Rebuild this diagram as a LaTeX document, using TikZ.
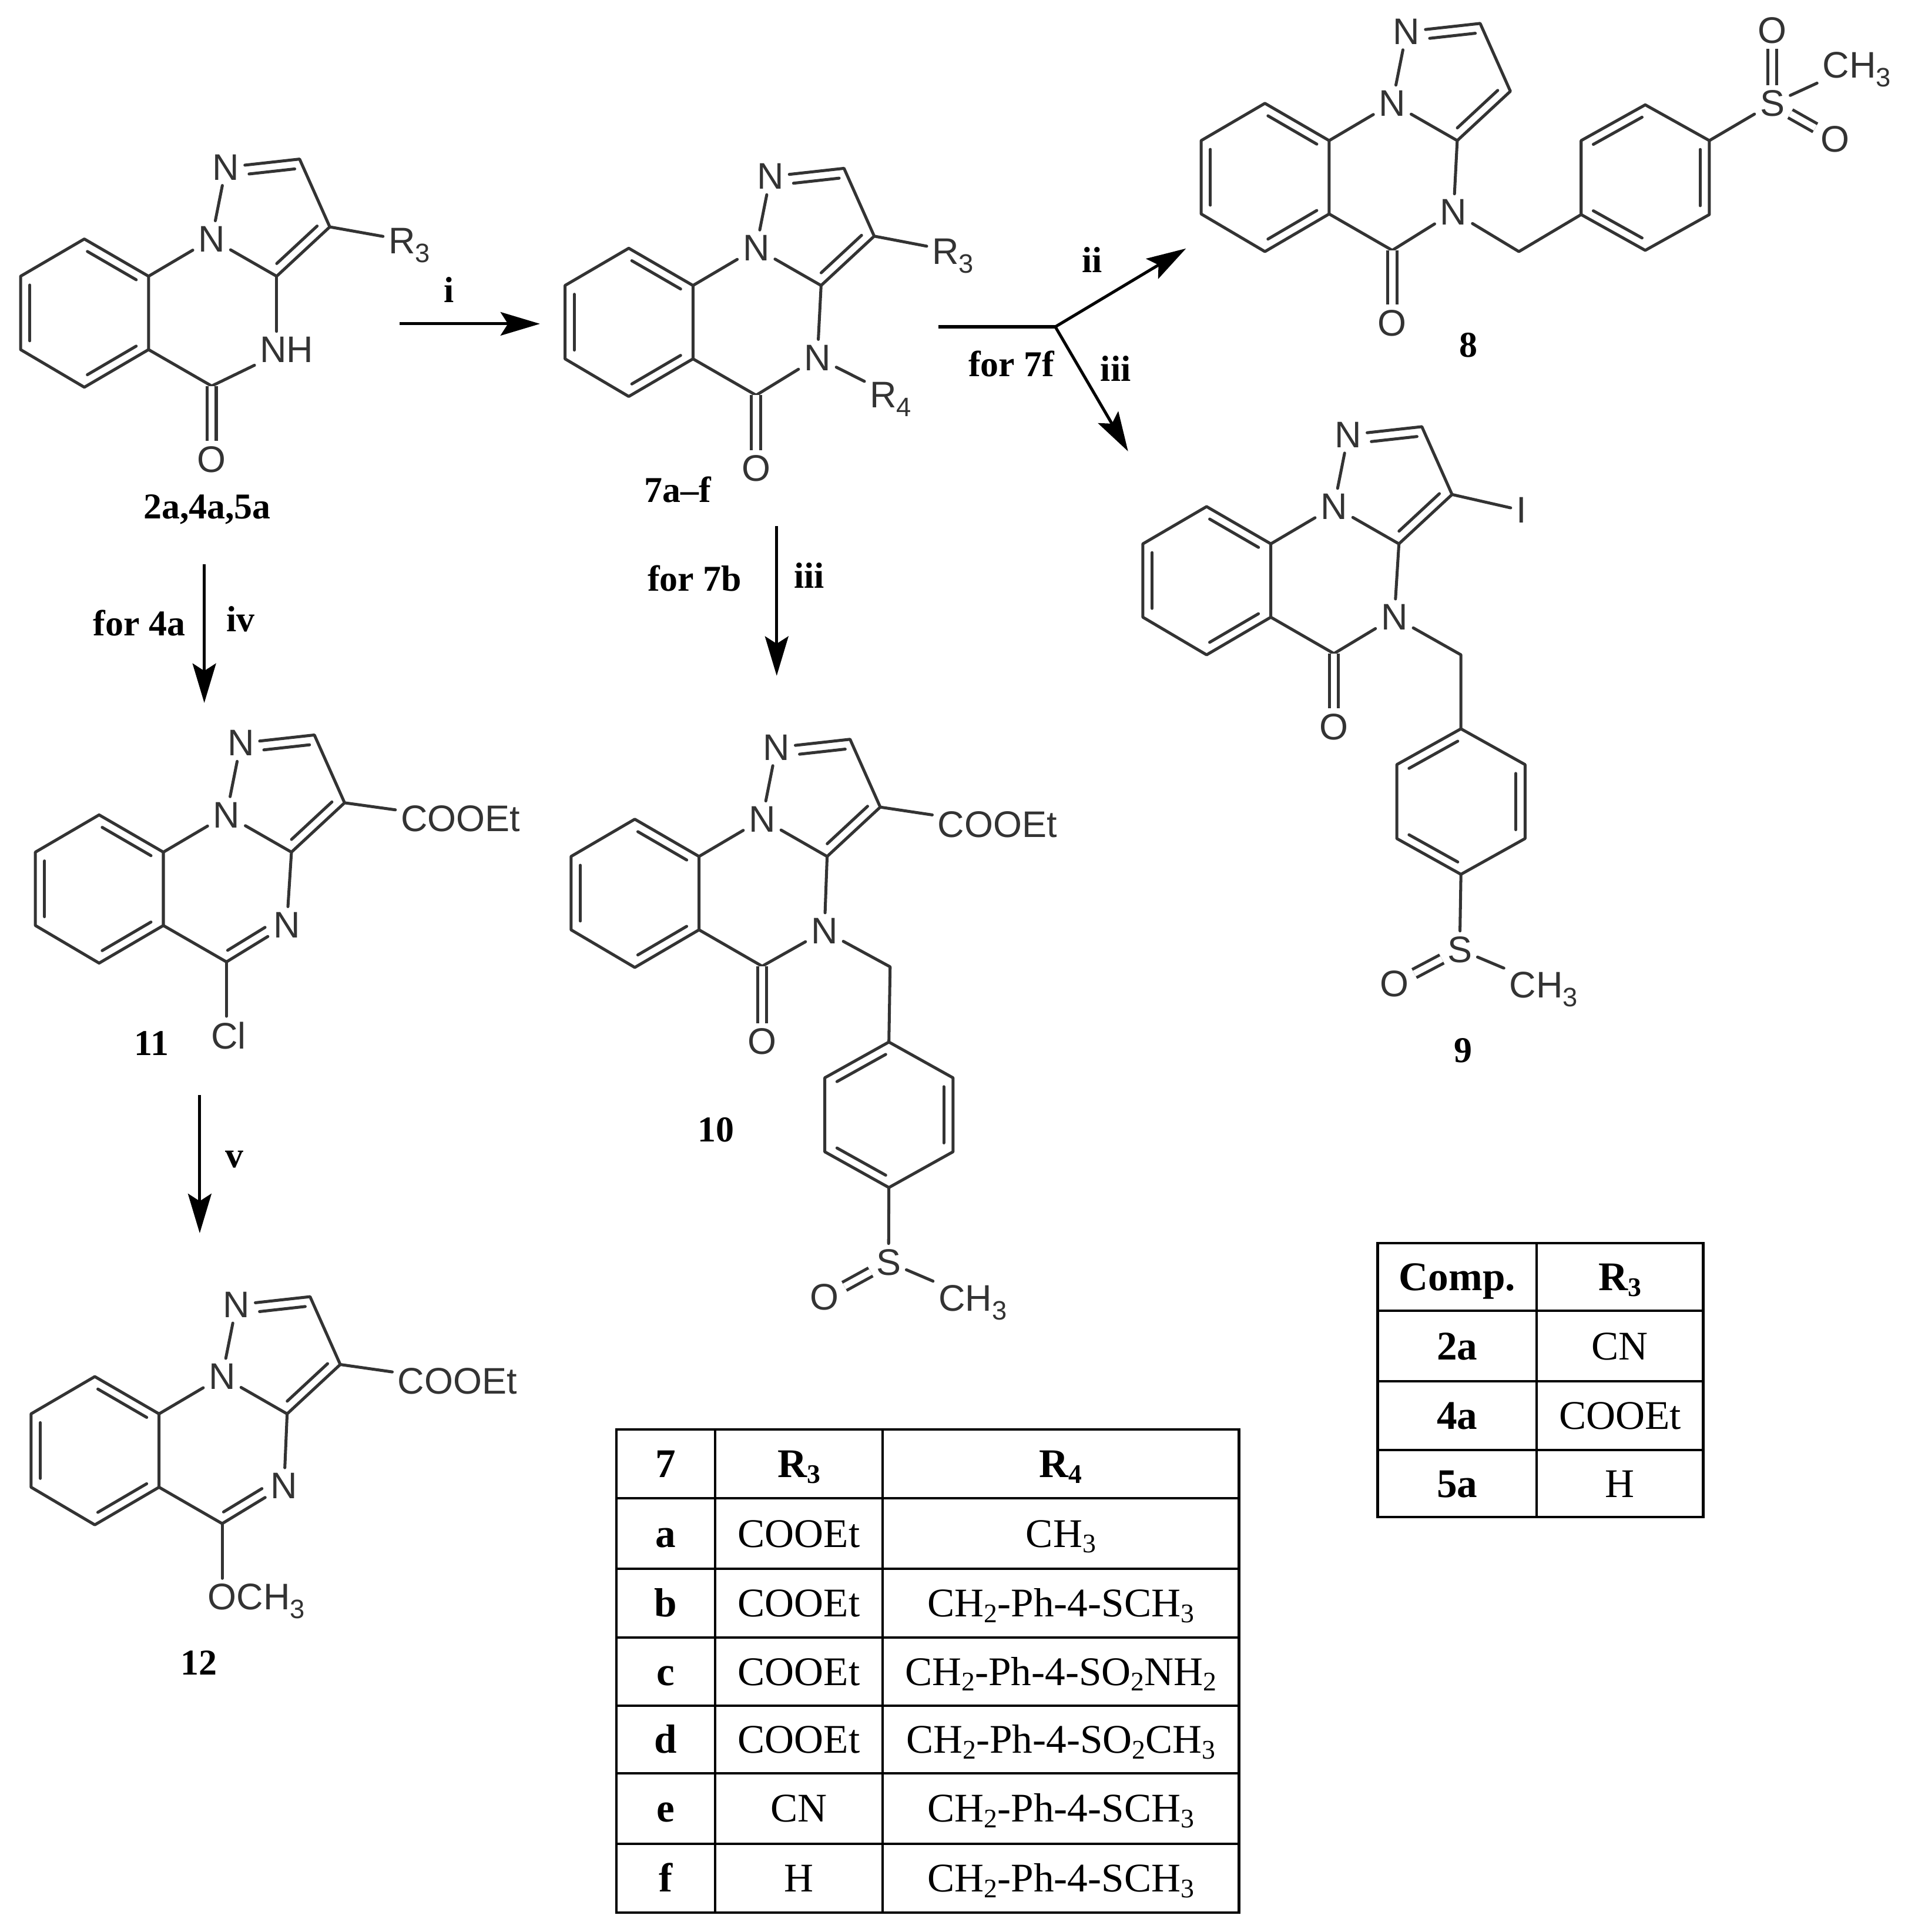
\documentclass[tikz,border=0pt]{standalone}
\usepackage{graphicx}
\usepackage{fontspec}
\setmainfont{Liberation Serif}
\newfontfamily\atomfont{Liberation Sans}
\usetikzlibrary{calc,arrows.meta}
\definecolor{bondColor}{gray}{0.2}
\tikzset{
  bond/.style={draw=bondColor,line width=2.4pt,line join=round,line cap=round},
  dbond/.style={bond,line cap=butt,double=white,double distance=5pt},
  atom/.style={text=bondColor,font=\atomfont\fontsize{30}{36}\selectfont,inner sep=4.5pt,outer sep=0pt},
  lbl/.style={text=black,font=\bfseries\fontsize{29.5}{34}\selectfont,inner sep=0pt,outer sep=0pt},
  rxn/.style={draw=black,line width=2.4pt,-{Stealth[length=32pt,width=19pt,inset=6pt]}},
  rule/.style={draw=black,line width=2pt,line cap=rect},
  cell/.style={text=black,anchor=base,font=\fontsize{33}{38}\selectfont,inner sep=0pt,outer sep=0pt},
  hcell/.style={cell,font=\bfseries\fontsize{33}{38}\selectfont},
}
\newcommand{\lowtxt}[1]{\raisebox{-.24em}[0pt][0pt]{\scalebox{.72}{#1}}}
\newcommand{\lowcell}[1]{\raisebox{-.14em}[0pt][0pt]{\scalebox{.66}{#1}}}
\newcommand{\innerline}[5]{\draw[bond] ($(#1)!#4!(#2)!#3!90:(#2)$) -- ($(#2)!#5!(#1)!#3!-90:(#1)$);}
% tricyclic core: name prefix, x shift, y shift
\newcommand{\ringcore}[3]{%
\begin{scope}[shift={(#2,#3)}]
\coordinate (#1a) at (68.4,193.8);
\coordinate (#1b) at (120.5,224);
\coordinate (#1c) at (120.5,283.5);
\coordinate (#1d) at (68.4,314);
\coordinate (#1e) at (16.7,283.5);
\coordinate (#1f) at (16.7,224);
\node[atom] (#1n1) at (171.7,193.8) {N};
\node[atom] (#1n2) at (183.3,135.6) {N};
\coordinate (#1c3) at (243,129);
\coordinate (#1c3a) at (267.5,184);
\coordinate (#1c9a) at (224.4,224);
\coordinate (#1c5) at (171.7,313);
\draw[bond] (#1a) -- (#1b) -- (#1c) -- (#1d) -- (#1e) -- (#1f) -- cycle;
\draw[bond] (#1b) -- (#1n1) -- (#1n2);
\draw[bond] (#1n2) -- (#1c3) -- (#1c3a) -- (#1c9a) -- (#1n1);
\draw[bond] (#1c) -- (#1c5);
\innerline{#1a}{#1b}{-7.5pt}{.12}{.12}
\innerline{#1c}{#1d}{-7.5pt}{.12}{.12}
\innerline{#1e}{#1f}{-7.5pt}{.12}{.12}
\innerline{#1c9a}{#1c3a}{7.5pt}{.12}{.12}
\innerline{#1n2}{#1c3}{-7.5pt}{.3}{.08}
\end{scope}}
% para-substituted phenyl: name prefix, centre x, centre y
\newcommand{\phenring}[3]{%
\begin{scope}[shift={(#2,#3)}]
\coordinate (#1t) at (0,-59);
\coordinate (#1r) at (52,-30);
\coordinate (#1s) at (52,30);
\coordinate (#1u) at (0,59);
\coordinate (#1m) at (-52,30);
\coordinate (#1l) at (-52,-30);
\draw[bond] (#1t) -- (#1r) -- (#1s) -- (#1u) -- (#1m) -- (#1l) -- cycle;
\innerline{#1l}{#1t}{-7.5pt}{.12}{.12}
\innerline{#1r}{#1s}{-7.5pt}{.12}{.12}
\innerline{#1u}{#1m}{-7.5pt}{.12}{.12}
\end{scope}}
\begin{document}
\begin{tikzpicture}[x=1pt,y=-1pt]
\path[use as bounding box,fill=white] (0,0) rectangle (1547.2,1566.7);

% compounds 2a,4a,5a
\ringcore{p}{0}{0}
\node[atom] (pR) at (332,195.5) {R\lowtxt{3}};
\node[atom] (pNH) at (232.6,283.5) {NH};
\node[atom] (pO) at (171.7,372.6) {O};
\draw[bond] (pc3a) -- (pR);
\draw[bond] (pc9a) -- (pNH.north -| pc9a);
\draw[bond] (pc5) -- (pNH);
\draw[dbond] (pc5) -- (pO);
\node[lbl] (pname) at (168,413) {2a,4a,5a};

% compounds 7a-f
\ringcore{q}{441.6}{7.5}
\node[atom] (qR) at (773,203.7) {R\lowtxt{3}};
\node[atom] (qN) at (663,290) {N};
\node[atom] (qRf) at (722.5,320) {R\lowtxt{4}};
\node[atom] (qO) at (613.3,380) {O};
\draw[bond] (qc3a) -- (qR);
\draw[bond] (qc9a) -- (qN) -- (qc5);
\draw[bond] (qN) -- (qRf);
\draw[dbond] (qc5) -- (qO);
\node[lbl] (qname) at (549.6,396.8) {7a--f};

% compound 8
\ringcore{r}{957.6}{-110}
\node[atom] (rN) at (1179,172) {N};
\node[atom] (rO) at (1129.3,262) {O};
\coordinate (rch) at (1232,204);
\phenring{rp}{1334.5}{144}
\node[atom] (rS) at (1437.6,84) {S};
\node[atom] (rOa) at (1437.6,24.5) {O};
\node[atom] (rOb) at (1488.6,112.8) {O};
\node[atom] (rMe) at (1506,52.7) {CH\lowtxt{3}};
\draw[bond] (rc9a) -- (rN) -- (rc5);
\draw[bond] (rN) -- (rch) -- (rpm);
\draw[dbond] (rc5) -- (rO);
\draw[bond] (rpr) -- (rS) -- (rMe);
\draw[dbond] (rS) -- (rOa);
\draw[dbond] (rS) -- (rOb);
\node[lbl] (rname) at (1191,280) {8};

% compound 9
\ringcore{s}{910.3}{217}
\node[atom] (sI) at (1234,413.8) {I};
\node[atom] (sN) at (1131,500.5) {N};
\node[atom] (sO) at (1082,589.6) {O};
\coordinate (sch) at (1185,531);
\phenring{sp}{1185}{650}
\node[atom] (sS) at (1184,770) {S};
\node[atom] (sOa) at (1131,798) {O};
\node[atom] (sMe) at (1252,798.6) {CH\lowtxt{3}};
\draw[bond] (sc3a) -- (sI);
\draw[bond] (sc9a) -- (sN) -- (sc5);
\draw[bond] (sN) -- (sch) -- (spt);
\draw[dbond] (sc5) -- (sO);
\draw[bond] (spu) -- (sS) -- (sMe);
\draw[dbond] (sS) -- (sOa);
\node[lbl] (sname) at (1187,852) {9};

% compound 10
\ringcore{t}{446.5}{470.5}
\node[atom] (tE) at (809,668.7) {COOEt};
\node[atom] (tN) at (668.7,755) {N};
\node[atom] (tO) at (618.2,844.7) {O};
\coordinate (tch) at (722,784);
\phenring{tp}{721}{904}
\node[atom] (tS) at (720.7,1023.5) {S};
\node[atom] (tOa) at (668.7,1052) {O};
\node[atom] (tMe) at (789,1052.6) {CH\lowtxt{3}};
\draw[bond] (tc3a) -- (tE);
\draw[bond] (tc9a) -- (tN) -- (tc5);
\draw[bond] (tN) -- (tch) -- (tpt);
\draw[dbond] (tc5) -- (tO);
\draw[bond] (tpu) -- (tS) -- (tMe);
\draw[dbond] (tS) -- (tOa);
\node[lbl] (tname) at (580.6,916.4) {10};

% compound 11
\ringcore{u}{12}{467}
\node[atom] (uE) at (373.5,664) {COOEt};
\node[atom] (uN) at (232.6,750) {N};
\node[atom] (uCl) at (185.5,839.6) {Cl};
\draw[bond] (uc3a) -- (uE);
\draw[bond] (uc9a) -- (uN) -- (uc5);
\draw[bond] (uc5) -- (uCl.north -| uc5);
\innerline{uc5}{uN}{7.5pt}{.1}{.28}
\node[lbl] (uname) at (123,846) {11};

% compound 12
\ringcore{v}{8.5}{922.5}
\node[atom] (vE) at (371,1120) {COOEt};
\node[atom] (vN) at (230.4,1205) {N};
\node[atom] (vOMe) at (208,1295) {OCH\lowtxt{3}};
\draw[bond] (vc3a) -- (vE);
\draw[bond] (vc9a) -- (vN) -- (vc5);
\draw[bond] (vc5) -- (vOMe.north -| vc5);
\innerline{vc5}{vN}{7.5pt}{.1}{.28}
\node[lbl] (vname) at (161.4,1348.6) {12};

% reaction arrows
\coordinate (iA) at (324,262.6);
\coordinate (iB) at (438,262.6);
\draw[rxn] (iA) -- (iB);
\node[lbl] (iL) at (364,235) {i};
\coordinate (fkA) at (761,265);
\coordinate (fkB) at (856,265);
\coordinate (fkC) at (962,201.5);
\coordinate (fkD) at (915,366);
\draw[bond,draw=black,line width=2.4pt,line cap=butt] (fkA) -- (fkB);
\draw[rxn] (fkB) -- (fkC);
\draw[rxn] (fkB) -- (fkD);
\node[lbl] (iiL) at (886,210.7) {ii};
\node[lbl] (iiiL) at (905,298.9) {iii};
\node[lbl] (ffL) at (820.4,294.8) {for 7f};
\coordinate (bA) at (630,426.6);
\coordinate (bB) at (630,548);
\draw[rxn] (bA) -- (bB);
\node[lbl] (fbL) at (563.4,469) {for 7b};
\node[lbl] (ibL) at (656.5,466.6) {iii};
\coordinate (cA) at (165.7,457.6);
\coordinate (cB) at (165.7,570);
\draw[rxn] (cA) -- (cB);
\node[lbl] (fcL) at (113,505) {for 4a};
\node[lbl] (icL) at (195,502) {iv};
\coordinate (dA) at (162,888);
\coordinate (dB) at (162,1000);
\draw[rxn] (dA) -- (dB);
\node[lbl] (vL) at (190,940) {v};

% table of compounds 7
\path[rule] (500,1159) rectangle (1005,1551);
\path[rule] (580,1159) -- (580,1551);
\path[rule] (716,1159) -- (716,1551);
\foreach \yy in {1215,1272,1328,1383,1438,1495}
  \path[rule] (500,\yy) -- (1005,\yy);
\node[hcell] (sevA) at (540,1198) {7};
\node[hcell] (sevB) at (648,1198) {R\lowcell{3}};
\node[hcell] (sevC) at (860.5,1198) {R\lowcell{4}};
\node[hcell] (aA) at (540,1254.5) {a};
\node[cell] (aB) at (648,1254.5) {COOEt};
\node[cell] (aC) at (860.5,1254.5) {CH\lowcell{3}};
\node[hcell] (bbA) at (540,1311) {b};
\node[cell] (bbB) at (648,1311) {COOEt};
\node[cell] (bbC) at (860.5,1311) {CH\lowcell{2}-Ph-4-SCH\lowcell{3}};
\node[hcell] (ccA) at (540,1366.5) {c};
\node[cell] (ccB) at (648,1366.5) {COOEt};
\node[cell] (ccC) at (860.5,1366.5) {CH\lowcell{2}-Ph-4-SO\lowcell{2}NH\lowcell{2}};
\node[hcell] (ddA) at (540,1421.5) {d};
\node[cell] (ddB) at (648,1421.5) {COOEt};
\node[cell] (ddC) at (860.5,1421.5) {CH\lowcell{2}-Ph-4-SO\lowcell{2}CH\lowcell{3}};
\node[hcell] (eeA) at (540,1477.5) {e};
\node[cell] (eeB) at (648,1477.5) {CN};
\node[cell] (eeC) at (860.5,1477.5) {CH\lowcell{2}-Ph-4-SCH\lowcell{3}};
\node[hcell] (ffA) at (540,1534) {f};
\node[cell] (ffB) at (648,1534) {H};
\node[cell] (ffC) at (860.5,1534) {CH\lowcell{2}-Ph-4-SCH\lowcell{3}};

% table of starting compounds
\path[rule] (1117.5,1008) rectangle (1381.5,1230);
\path[rule] (1246.5,1008) -- (1246.5,1230);
\foreach \yy in {1063,1120,1176}
  \path[rule] (1117.5,\yy) -- (1381.5,\yy);
\node[hcell] (cpA) at (1182,1046.5) {Comp.};
\node[hcell] (cpB) at (1314,1046.5) {R\lowcell{3}};
\node[hcell] (twoA) at (1182,1102.5) {2a};
\node[cell] (twoB) at (1314,1102.5) {CN};
\node[hcell] (fourA) at (1182,1159) {4a};
\node[cell] (fourB) at (1314,1159) {COOEt};
\node[hcell] (fiveA) at (1182,1214) {5a};
\node[cell] (fiveB) at (1314,1214) {H};
\end{tikzpicture}
\end{document}
